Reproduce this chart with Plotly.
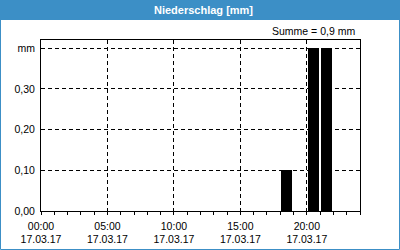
import plotly.graph_objects as go

# Data
times = ["2017-03-17 18:00", "2017-03-17 20:00", "2017-03-17 21:00"]
values = [0.10, 0.40, 0.40]
y_tickvals = [0.0, 0.1, 0.2, 0.3, 0.4]
y_ticktext = ["0,00", "0,10", "0,20", "0,30", "mm"]
title_text = "Niederschlag [mm]"
sum_text = "Summe = 0,9 mm"

HOUR = 3600000
FONT = "Tahoma, 'Liberation Sans', Arial, sans-serif"
BLUE = "#3C8FC6"

fig = go.Figure()
fig.add_trace(go.Bar(
    x=times, y=values,
    width=[0.85 * HOUR] * len(times),
    offset=0.05 * HOUR,
    marker=dict(color="black", line=dict(width=0)),
))

fig.update_layout(
    width=400, height=250,
    margin=dict(l=41, r=40, t=40, b=39),
    paper_bgcolor="white", plot_bgcolor="white",
    showlegend=False,
    font=dict(family=FONT, size=10.5, color="black"),
    bargap=0,
    xaxis=dict(
        type="date",
        range=["2017-03-17 00:00", "2017-03-18 00:00"],
        tick0="2017-03-17 00:00", dtick=5 * HOUR,
        tickformat="%H:%M<br>%d.%m.%y",
        ticks="outside", ticklen=3, tickcolor="black",
        ticklabelstandoff=2, automargin=False,
        showline=True, linecolor="black", linewidth=1, mirror=True,
        showgrid=True, gridcolor="black", gridwidth=1, griddash="4px,3px",
        minor=dict(dtick=HOUR, tick0="2017-03-17 00:00", ticks="outside",
                   ticklen=3, tickcolor="black", showgrid=False),
        zeroline=False,
    ),
    yaxis=dict(
        range=[0, 0.42],
        tickvals=y_tickvals, ticktext=y_ticktext,
        ticks="", ticklabelstandoff=3, automargin=False,
        showline=True, linecolor="black", linewidth=1, mirror=True,
        showgrid=True, gridcolor="black", gridwidth=1, griddash="4px,3px",
        zeroline=False,
    ),
    shapes=[
        dict(type="rect", xref="paper", yref="paper", x0=-41/319, x1=1 + 40/319,
             y0=1 + 20/171, y1=1 + 40/171, fillcolor=BLUE, line=dict(width=0), layer="below"),
        dict(type="rect", xref="paper", yref="paper", x0=-40.5/319, x1=1 + 39.5/319,
             y0=-38.5/171, y1=1 + 39.5/171, fillcolor="rgba(0,0,0,0)",
             line=dict(color=BLUE, width=1)),
    ],
    annotations=[
        dict(text="<b>" + title_text + "</b>", xref="paper", yref="paper",
             x=(203 - 41) / 319, y=1 + 30/171, xanchor="center", yanchor="middle",
             showarrow=False, font=dict(color="white", size=11, family=FONT)),
        dict(text=sum_text, xref="paper", yref="paper",
             x=(357 - 41) / 319, y=1 + 9/171, xanchor="right", yanchor="middle",
             showarrow=False, font=dict(size=10.5, family=FONT)),
    ],
)

fig.write_html("out.html")
